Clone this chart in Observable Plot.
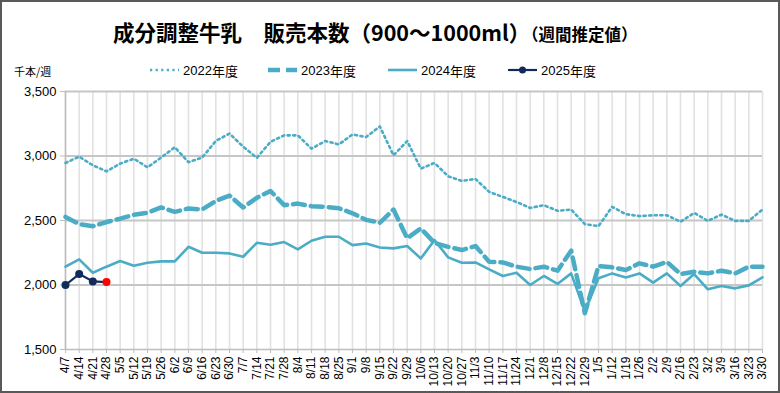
<!DOCTYPE html>
<html>
<head>
<meta charset="utf-8">
<script src="https://cdn.jsdelivr.net/npm/d3@7"></script>
<script src="https://cdn.jsdelivr.net/npm/@observablehq/plot@0.6"></script>
<style>
  html, body { margin: 0; padding: 0; background: #fff; }
  #wrap { position: relative; width: 780px; height: 393px; overflow: hidden; background: #fff; }
  #wrap > svg { position: absolute; left: 0; top: 0; }
  #frame { position: absolute; left: 0; top: 0; width: 780px; height: 393px; box-sizing: border-box; border: 2px solid #595959; pointer-events: none; }
  .title { position: absolute; left: 113px; top: 21px; font-family: "Noto Sans CJK JP", sans-serif; font-weight: bold; font-size: 21.5px; line-height: 1; white-space: nowrap; color: #000; }
  .title .sub { font-size: 16.5px; }
  .unit { position: absolute; left: 14px; top: 66px; font-family: "Noto Sans CJK JP", sans-serif; font-size: 11px; line-height: 1; color: #000; }
  .leg { position: absolute; top: 62px; height: 16px; display: flex; align-items: center; font-family: "Liberation Sans", "Noto Sans CJK JP", sans-serif; font-size: 13px; color: #000; white-space: nowrap; }
  #wrap .leg svg { position: static; margin-right: 4px; }
  .leg span { font-family: "Noto Sans CJK JP", sans-serif; }
</style>
</head>
<body>
<div id="wrap">
  <div class="title">成分調整牛乳　販売本数（900～1000ml）<span class="sub">（週間推定値）</span></div>
  <div class="unit">千本/週</div>
  <div id="legend"></div>
  <div id="frame"></div>
</div>
<script>
const weeks = ["4/7","4/14","4/21","4/28","5/5","5/12","5/19","5/26","6/2","6/9","6/16","6/23","6/30","7/7","7/14","7/21","7/28","8/4","8/11","8/18","8/25","9/1","9/8","9/15","9/22","9/29","10/6","10/13","10/20","10/27","11/3","11/10","11/17","11/24","12/1","12/8","12/15","12/22","12/29","1/5","1/12","1/19","1/26","2/2","2/9","2/16","2/23","3/2","3/9","3/16","3/23","3/30"];

const y2022 = [2946,2995,2928,2881,2941,2979,2912,2988,3068,2952,2988,3117,3174,3072,2986,3110,3160,3160,3057,3116,3090,3167,3147,3229,3005,3116,2902,2946,2843,2807,2822,2722,2683,2644,2597,2619,2575,2585,2472,2456,2606,2549,2534,2541,2541,2490,2559,2497,2546,2497,2497,2585];
const y2023 = [2528,2472,2456,2488,2514,2545,2560,2601,2567,2593,2585,2652,2693,2601,2676,2729,2619,2631,2611,2606,2595,2556,2505,2482,2585,2362,2438,2327,2296,2271,2302,2180,2175,2142,2124,2142,2111,2266,1781,2147,2137,2116,2168,2142,2180,2085,2103,2090,2111,2090,2142,2142];
const y2024 = [2142,2199,2095,2142,2186,2150,2173,2183,2183,2296,2250,2250,2245,2219,2327,2312,2333,2276,2343,2374,2374,2309,2322,2291,2284,2302,2206,2348,2214,2173,2175,2121,2070,2095,2000,2070,2008,2090,1794,2052,2090,2059,2090,2018,2090,1992,2085,1967,1992,1974,1997,2059];
const y2025 = [2000,2085,2028,2023];

const yTicks = [1500,2000,2500,3000,3500];
const seriesNames = ["2022年度","2023年度","2024年度","2025年度"];

const teal = "#4BACC6";
const navy = "#12295C";
const red = "#FF0000";

const toRows = arr => arr.map((v, i) => ({w: weeks[i], v}));
const d2022 = toRows(y2022), d2023 = toRows(y2023), d2024 = toRows(y2024), d2025 = toRows(y2025);

const chart = Plot.plot({
  width: 780,
  height: 393,
  marginLeft: 65,
  marginRight: 18,
  marginTop: 91,
  marginBottom: 44,
  style: {fontFamily: "Liberation Sans, Arial, sans-serif", color: "#000", background: "transparent", overflow: "visible"},
  x: {type: "point", domain: weeks, padding: 0},
  y: {domain: [1500, 3500]},
  marks: [
    Plot.ruleX(weeks, {x: d => d, y1: 1500, y2: 3500, stroke: "#e2e2e2", strokeWidth: 1.6}),
    Plot.ruleY(yTicks.slice(1), {y: d => d, stroke: "#c6c6c6", strokeWidth: 1.8}),
    Plot.ruleY([1500], {y: d => d, stroke: "#bdbdbd", strokeWidth: 1.5}),
    Plot.ruleX([weeks[0]], {x: d => d, y1: 1500, y2: 3500, stroke: "#bdbdbd", strokeWidth: 1.5}),
    Plot.axisY({ticks: yTicks, tickFormat: d3.format(","), tickSize: 5, tickPadding: 4, stroke: "#bdbdbd", fontSize: 13, label: null}),
    Plot.axisX({ticks: weeks, tickRotate: -90, tickSize: 4, tickPadding: 3, stroke: "#bdbdbd", fontSize: 12, label: null}),
    Plot.line(d2022, {x: "w", y: "v", stroke: teal, strokeWidth: 2.6, strokeDasharray: "2.2,3.4"}),
    Plot.line(d2023, {x: "w", y: "v", stroke: teal, strokeWidth: 4.5, strokeDasharray: "12,6"}),
    Plot.line(d2024, {x: "w", y: "v", stroke: teal, strokeWidth: 2.6}),
    Plot.line(d2025, {x: "w", y: "v", stroke: navy, strokeWidth: 2.2}),
    Plot.dot(d2025.slice(0, -1), {x: "w", y: "v", r: 4, fill: navy, stroke: "none"}),
    Plot.dot(d2025.slice(-1), {x: "w", y: "v", r: 4, fill: red, stroke: "none"})
  ]
});
document.getElementById("wrap").insertBefore(chart, document.getElementById("frame"));

// legend
const legendItems = [
  {name: seriesNames[0], left: 150, dash: "2.2,3.4", sw: 2.6, color: teal, marker: false},
  {name: seriesNames[1], left: 268, dash: "12,6", sw: 4.5, color: teal, marker: false},
  {name: seriesNames[2], left: 388, dash: null, sw: 2.6, color: teal, marker: false},
  {name: seriesNames[3], left: 508, dash: null, sw: 2.2, color: navy, marker: true}
];
const legend = document.getElementById("legend");
for (const it of legendItems) {
  const div = document.createElement("div");
  div.className = "leg";
  div.style.left = it.left + "px";
  div.innerHTML = `<svg width="29" height="10" viewBox="0 0 29 10"><line x1="0" x2="29" y1="5" y2="5" stroke="${it.color}" stroke-width="${it.sw}" ${it.dash ? `stroke-dasharray="${it.dash}"` : ""}/>${it.marker ? `<circle cx="14.5" cy="5" r="3.5" fill="${it.color}"/>` : ""}</svg>${it.name.replace(/(年度)/, "<span>$1</span>")}`;
  legend.appendChild(div);
}
</script>
</body>
</html>
